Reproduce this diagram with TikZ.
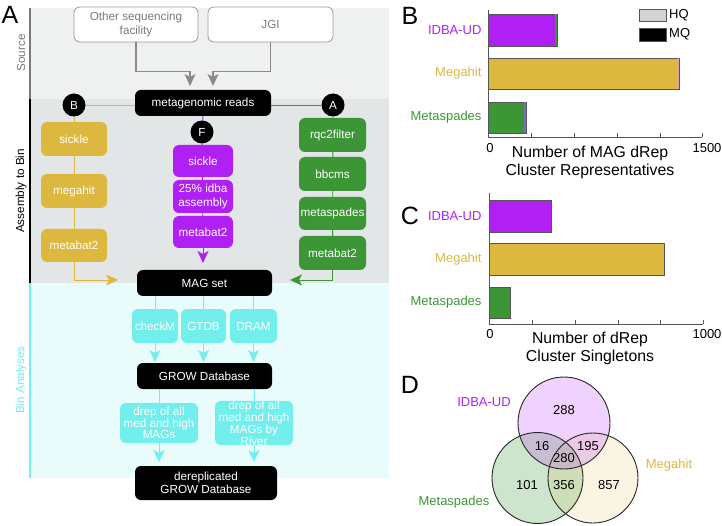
\documentclass[tikz,border=0pt]{standalone}
\usepackage{fontspec}
\setmainfont{Liberation Sans}
\usetikzlibrary{arrows.meta}
\definecolor{gold}{HTML}{DDB83F}
\definecolor{purp}{HTML}{B020F5}
\definecolor{grn}{HTML}{3C9636}
\definecolor{cyanbox}{HTML}{72EEEC}
\definecolor{cyanband}{HTML}{E8FCFC}
\definecolor{cyantext}{HTML}{7DE6E6}
\definecolor{srcband}{HTML}{EFF1F1}
\definecolor{asmband}{HTML}{E3E6E7}
\definecolor{arrowgray}{HTML}{8A8A8A}
\definecolor{boxgray}{HTML}{9A9A9A}
\definecolor{txtgray}{HTML}{7A7A7A}
\definecolor{axisgray}{HTML}{555555}
\definecolor{pinkend}{HTML}{E8A0B0}
\definecolor{blueend}{HTML}{7070C0}
\definecolor{hqgray}{HTML}{D3D3D3}
\pgfdeclarelayer{bands}
\pgfdeclarelayer{lines}
\pgfsetlayers{bands,lines,main}
\newcommand{\fsbox}{\fontsize{11.7}{14}\selectfont}
\newcommand{\fsdrep}{\fontsize{11.7}{10.5}\selectfont}
\newcommand{\fslab}{\fontsize{13}{15}\selectfont}
\newcommand{\fsaxis}{\fontsize{15.8}{18}\selectfont}
\newcommand{\fsletter}{\fontsize{25}{28}\selectfont}
\begin{document}
\begin{tikzpicture}[x=1pt,y=-1pt,
  box/.style={rounded corners=6pt, inner sep=0pt, text=white, font=\fsbox, align=center},
  goldbox/.style={box, fill=gold},
  purpbox/.style={box, fill=purp},
  grnbox/.style={box, fill=grn},
  cyanbx/.style={box, fill=cyanbox},
  blackbox/.style={box, fill=black},
  srcbox/.style={box, fill=white, draw=boxgray, line width=0.8pt, text=txtgray},
  circ/.style={circle, fill=black, text=white, minimum size=23pt, inner sep=0pt, font=\fsbox},
  tip/.style={-{Stealth[length=12pt,width=11pt,inset=3pt]}},
  conn/.style={line width=0.9pt},
  bar/.style={draw=axisgray, line width=0.6pt},
  axis/.style={draw=axisgray, line width=0.8pt},
  venn/.style={draw=black!85, line width=0.9pt},
  letter/.style={font=\fsletter, inner sep=0pt}
]
\useasboundingbox (0,0) rectangle (722,526);

% ---------- bands ----------
\begin{pgfonlayer}{bands}
\fill[srcband] (30,8) rectangle (389,99);
\fill[asmband] (30,99) rectangle (389,283);
\fill[cyanband] (30,283) rectangle (389,478);
\fill[txtgray] (29,8) rectangle (31,99);
\fill[black] (29,99) rectangle (31,283);
\fill[cyanbox] (29,283) rectangle (31,478);
\end{pgfonlayer}

\node[letter] (LA) at (10,14.5) {A};
\node[rotate=90, text=txtgray, font=\fsbox] (lsrc) at (21,53) {Source};
\node[rotate=90, font=\fsbox] (lasm) at (21,191) {Assembly to Bin};
\node[rotate=90, text=cyantext, font=\fsbox] (lbin) at (21,380) {Bin Analyses};

% ---------- source ----------
\node[srcbox, minimum width=124pt, minimum height=35pt] (other) at (136,24.5) {Other sequencing\\facility};
\node[srcbox, minimum width=125pt, minimum height=35pt] (jgi) at (270.5,24.5) {JGI};
\coordinate (in1) at (190,86);
\coordinate (in2) at (213,86);
\draw[arrowgray, line width=1.2pt, tip] (other.south) -- ++(0,29) -| (in1);
\draw[arrowgray, line width=1.2pt, tip] (jgi.south) -- ++(0,29) -| (in2);

% ---------- assembly ----------
\node[blackbox, minimum width=136pt, minimum height=26pt] (reads) at (203,103) {metagenomic reads};
\node[circ] (B) at (74,105) {B};
\node[circ] (A) at (333,105) {A};
\node[circ] (F) at (202,132) {F};

\node[goldbox, minimum width=66pt, minimum height=34pt] (gs) at (74,139) {sickle};
\node[goldbox, minimum width=66pt, minimum height=34pt] (gm) at (74,191) {megahit};
\node[goldbox, minimum width=66pt, minimum height=33pt] (gb) at (74,245.5) {metabat2};

\node[purpbox, minimum width=60pt, minimum height=32pt] (ps) at (203,161) {sickle};
\node[purpbox, minimum width=60pt, minimum height=33pt] (pi) at (203,196.5) {25\% idba\\assembly};
\node[purpbox, minimum width=60pt, minimum height=32pt] (pb) at (203,232) {metabat2};

\node[grnbox, minimum width=67pt, minimum height=34pt] (gr) at (332.5,135) {rqc2filter};
\node[grnbox, minimum width=67pt, minimum height=34pt] (gbb) at (332.5,174) {bbcms};
\node[grnbox, minimum width=67pt, minimum height=33pt] (gsp) at (332.5,213.5) {metaspades};
\node[grnbox, minimum width=67pt, minimum height=34pt] (gmb) at (332.5,253) {metabat2};

\node[blackbox, minimum width=135pt, minimum height=26pt] (mag) at (204.5,283) {MAG set};

\coordinate (gtip) at (118,280);
\coordinate (gntip) at (290,280);
\coordinate (ptip) at (203,263);
\begin{pgfonlayer}{lines}
\draw[gold, conn] (B) -- (B -| reads.west);
\draw[gold, conn] (B) -- (gb.south);
\draw[gold, conn, tip] (gb.south) |- (gtip);
\draw[grn, conn] (A) -- (A -| reads.east);
\draw[grn, conn] (A) -- (gmb.south);
\draw[grn, conn, tip] (gmb.south) |- (gntip);
\draw[purp, conn] (reads.south) -- (F);
\draw[purp, conn] (F) -- (pb.south);
\draw[purp, conn, tip] (pb.south) -- (ptip);
\end{pgfonlayer}

% ---------- bin analyses ----------
\node[cyanbx, minimum width=46pt, minimum height=34pt] (ck) at (155,326) {checkM};
\node[cyanbx, minimum width=45pt, minimum height=34pt] (gt) at (203.5,326) {GTDB};
\node[cyanbx, minimum width=47pt, minimum height=34pt] (dr) at (253.5,326) {DRAM};
\node[blackbox, minimum width=135pt, minimum height=26pt] (grow) at (204.5,376) {GROW Database};
\node[cyanbx, minimum width=78pt, minimum height=40pt, font=\fsdrep] (d1) at (159,423) {drep of all\\med and high\\MAGs};
\node[cyanbx, minimum width=78pt, minimum height=40pt, font=\fsdrep] (d2) at (254,423) {drep of all\\med and high\\MAGs by\\River};
\node[blackbox, minimum width=142pt, minimum height=34pt, font=\fontsize{11.7}{13.5}\selectfont] (derep) at (206,483) {dereplicated\\GROW Database};

\coordinate (t1) at (155,362);
\coordinate (t2) at (203.5,362);
\coordinate (t3) at (253.5,362);
\coordinate (t4) at (159,462);
\coordinate (t5) at (254,462);
\begin{pgfonlayer}{lines}
\draw[cyanbox, conn] (ck.north |- mag.south) -- (ck.north);
\draw[cyanbox, conn] (gt.north |- mag.south) -- (gt.north);
\draw[cyanbox, conn] (dr.north |- mag.south) -- (dr.north);
\draw[cyanbox, conn, tip] (ck.south) -- (t1);
\draw[cyanbox, conn, tip] (gt.south) -- (t2);
\draw[cyanbox, conn, tip] (dr.south) -- (t3);
\draw[cyanbox, conn] (d1.north |- grow.south) -- (d1.north);
\draw[cyanbox, conn] (d2.north |- grow.south) -- (d2.north);
\draw[cyanbox, conn, tip] (d1.south) -- (t4);
\draw[cyanbox, conn, tip] (d2.south) -- (t5);
\end{pgfonlayer}

% ---------- panel B ----------
\node[letter] (LB) at (410,16) {B};
\fill[purp, bar] (488,14) rectangle (557,46);
\fill[grn] (555,14.3) rectangle (557,45.7);
\fill[gold, bar] (488,58) rectangle (679,89);
\fill[pinkend] (677.5,58.3) rectangle (679,88.7);
\fill[grn, bar] (488,102) rectangle (526,133);
\fill[blueend] (524.3,102.3) rectangle (526,132.7);
\draw[axis] (488,10) -- (488,137) -- (702,137);
\foreach \x in {531,574,617,660,702} \draw[axis] (\x,137) -- (\x,133);
\node[font=\fslab, text=purp, anchor=east] (bl1) at (485,30) {IDBA-UD};
\node[font=\fslab, text=gold, anchor=east] (bl2) at (485,73.5) {Megahit};
\node[font=\fslab, text=grn, anchor=east] (bl3) at (485,117.5) {Metaspades};
\node[font=\fslab] (b0) at (490,148) {0};
\node[font=\fslab] (b1500) at (707,148) {1500};
\node[font=\fsaxis, align=center] (bt) at (590,162) {Number of MAG dRep\\Cluster Representatives};
\filldraw[fill=hqgray, draw=axisgray, line width=0.6pt] (639,9) rectangle (666,21);
\filldraw[fill=black, draw=axisgray, line width=0.6pt] (639,28) rectangle (666,41);
\node[font=\fslab, anchor=west, inner sep=0pt] (hq) at (669,15) {HQ};
\node[font=\fslab, anchor=west, inner sep=0pt] (mq) at (669,34.5) {MQ};

% ---------- panel C ----------
\node[letter] (LC) at (410,216) {C};
\fill[purp, bar] (489,200) rectangle (551,232);
\fill[gold, bar] (489,243) rectangle (664,275);
\fill[grn, bar] (489,287) rectangle (510,318);
\draw[axis] (489,193) -- (489,324) -- (703,324);
\foreach \x in {532,575,618,660,703} \draw[axis] (\x,324) -- (\x,320);
\node[font=\fslab, text=purp, anchor=east] (cl1) at (485,216) {IDBA-UD};
\node[font=\fslab, text=gold, anchor=east] (cl2) at (485,259) {Megahit};
\node[font=\fslab, text=grn, anchor=east] (cl3) at (485,302.5) {Metaspades};
\node[font=\fslab] (c0) at (490,334) {0};
\node[font=\fslab] (c1000) at (707,334) {1000};
\node[font=\fsaxis, align=center] (ct) at (590,348) {Number of dRep\\Cluster Singletons};

% ---------- panel D ----------
\node[letter] (LD) at (410,385) {D};
\fill[grn, fill opacity=0.25] (537.5,478) circle[radius=45.5];
\fill[gold, fill opacity=0.15] (593,478) circle[radius=45];
\fill[purp, fill opacity=0.2] (564,423) circle[radius=46];
\draw[venn] (537.5,478) circle[radius=45.5];
\draw[venn] (593,478) circle[radius=45];
\draw[venn] (564,423) circle[radius=46];
\node[font=\fslab] (v1) at (564,410) {288};
\node[font=\fslab] (v2) at (542,446) {16};
\node[font=\fslab] (v3) at (588,446) {195};
\node[font=\fslab] (v4) at (564,458) {280};
\node[font=\fslab] (v5) at (527,485) {101};
\node[font=\fslab] (v6) at (564,485) {356};
\node[font=\fslab] (v7) at (609,485) {857};
\node[font=\fslab, text=purp] (vl1) at (484,402) {IDBA-UD};
\node[font=\fslab, text=gold] (vl2) at (669,465) {Megahit};
\node[font=\fslab, text=grn] (vl3) at (454,502) {Metaspades};
\end{tikzpicture}
\end{document}
